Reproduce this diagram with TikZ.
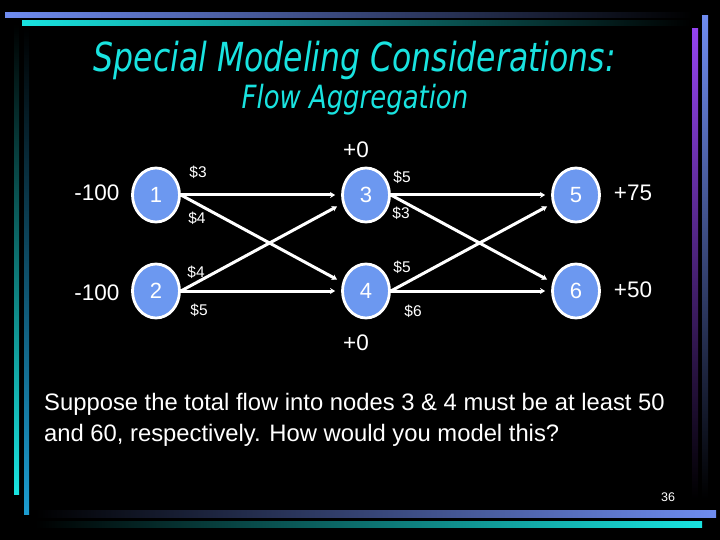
\documentclass[tikz,border=0pt]{standalone}
\usepackage{fontspec}
\setmainfont{Liberation Sans}
\newfontfamily\titlefont{DejaVu Sans Condensed}
\usetikzlibrary{arrows.meta, shapes.geometric}
\definecolor{slidecyan}{HTML}{19E3E0}
\definecolor{slideblue}{HTML}{6F8CF0}
\definecolor{slidesteel}{HTML}{1C9CD0}
\definecolor{slidepurple}{HTML}{9443F0}
\definecolor{nodeblue}{HTML}{6C98F0}

\begin{document}
\begin{tikzpicture}[x=1pt, y=-1pt,
    netnode/.style={ellipse, draw=white, line width=2.8pt, fill=nodeblue,
                    minimum width=47pt, minimum height=54pt, inner sep=0pt,
                    text=white, font=\fontsize{22}{24}\selectfont},
    flowarc/.style={-{Stealth[length=5pt, width=6pt]}, line width=3pt, white, shorten >=6pt},
    cost/.style={text=white, font=\fontsize{15.5}{17}\selectfont},
    supply/.style={text=white, font=\fontsize{22.5}{24}\selectfont},
]
    % slide background and frame bars
    \fill[black] (0,0) rectangle (720,540);
    \useasboundingbox (0,0) rectangle (720,540);
    \shade[left color=slideblue, middle color=slideblue, right color=black] (5,13) rectangle (692,18);
    \shade[left color=slidecyan, middle color=slidecyan!85!black, right color=black] (22,21) rectangle (690,26);
    \shade[top color=black, bottom color=slidecyan] (14,24) rectangle (19,494);
    \shade[top color=black, bottom color=slidesteel] (24,28) rectangle (29,514);
    \shade[top color=slidepurple, bottom color=black] (692,29) rectangle (698,498);
    \shade[top color=slideblue, bottom color=black] (702,16) rectangle (708,498);
    \shade[left color=black, middle color=slideblue!90!black, right color=slideblue] (35,510) rectangle (716,517);
    \shade[left color=black, middle color=slidecyan!90!black, right color=slidecyan] (35,521) rectangle (702,527);

    % title
    \node[text=slidecyan, font=\titlefont\itshape\fontsize{40}{44}\selectfont] (title) at (355,60)
        {\scalebox{0.875}[1]{Special Modeling Considerations:}};
    \node[text=slidecyan, font=\titlefont\itshape\fontsize{32}{36}\selectfont] (subtitle) at (355,100)
        {\scalebox{0.9}[1]{Flow Aggregation}};

    % network
    \node[netnode] (n1) at (156,195) {1};
    \node[netnode] (n2) at (156,291) {2};
    \node[netnode] (n3) at (366,195) {3};
    \node[netnode] (n4) at (366,291) {4};
    \node[netnode] (n5) at (576,195) {5};
    \node[netnode] (n6) at (576,291) {6};

    \draw[flowarc] (n1.east) -- (n3.west);
    \draw[flowarc] (n1.east) -- (n4.160);
    \draw[flowarc] (n2.east) -- (n3.200);
    \draw[flowarc] (n2.east) -- (n4.west);
    \draw[flowarc] (n3.east) -- (n5.west);
    \draw[flowarc] (n3.east) -- (n6.160);
    \draw[flowarc] (n4.east) -- (n5.200);
    \draw[flowarc] (n4.east) -- (n6.west);

    % supplies and demands
    \node[supply] (s1) at (97,193) {-100};
    \node[supply] (s2) at (97,293) {-100};
    \node[supply] (s3) at (356,150) {+0};
    \node[supply] (s4) at (356,343) {+0};
    \node[supply] (s5) at (633,193) {+75};
    \node[supply] (s6) at (633,290) {+50};

    % costs
    \node[cost] (c13) at (198,172) {\$3};
    \node[cost] (c14) at (197,218) {\$4};
    \node[cost] (c23) at (196,272) {\$4};
    \node[cost] (c24) at (199,310) {\$5};
    \node[cost] (c35) at (402,177) {\$5};
    \node[cost] (c36) at (401,213) {\$3};
    \node[cost] (c45) at (402,267) {\$5};
    \node[cost] (c46) at (413,311) {\$6};

    % question
    \node[text=white, anchor=north west, align=left, inner sep=0pt,
          font=\fontsize{23.8}{31.5}\selectfont] (question) at (44,393)
        {Suppose the total flow into nodes 3 \& 4 must be at least 50\\and 60, respectively. How would you model this?};

    \node[text=white, font=\fontsize{12.5}{14}\selectfont] (pagenum) at (668,497) {36};
\end{tikzpicture}
\end{document}
